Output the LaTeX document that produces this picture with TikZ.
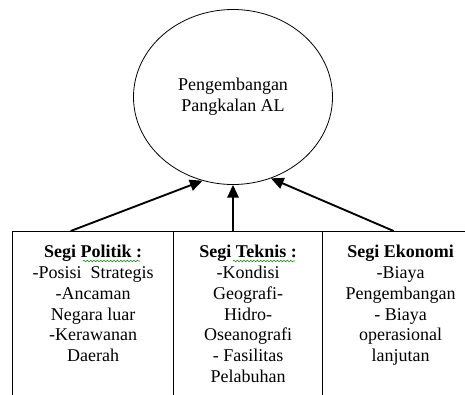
\documentclass[tikz,border=0pt]{standalone}
\usepackage{fontspec}
\setmainfont{Liberation Serif}
\usetikzlibrary{arrows.meta, shapes.geometric, positioning, decorations.pathmorphing}

\tikzset{
  segibox/.style={draw, line width=1pt, minimum height=150pt, anchor=north west, inner sep=0pt},
  segitext/.style={align=center, inner sep=0pt, font=\fontsize{13.5}{15.6}\selectfont},
  panah/.style={-{Triangle[length=9.5pt, width=8.5pt]}, line width=1.4pt},
  spell/.style={draw=green!55!black, decorate, decoration={snake, amplitude=0.6pt, segment length=2.5pt}, line width=0.4pt}
}

\begin{document}
\begin{tikzpicture}[x=0.75pt, y=-0.75pt]
        \clip (0,0) rectangle (465,394);

        % Circle
        \node[ellipse, draw, line width=0.6pt, minimum width=149.25pt, minimum height=131.25pt,
              inner sep=0pt, segitext] (pusat) at (233,97) {Pengembangan\\Pangkalan AL};

        % Boxes
        \node[segibox, minimum width=120.75pt] (politik) at (12,231) {};
        \node[segibox, minimum width=111.75pt] (teknis) at (173,231) {};
        \node[segibox, minimum width=117pt] (ekonomi) at (322,231) {};

        % Texts
        \node[segitext, below=10.5pt of politik.north] (tpolitik)
            {\textbf{Segi Politik :}\\-Posisi\ \ Strategis\\-Ancaman\\Negara luar\\-Kerawanan\\Daerah};
        \node[segitext, below=10.5pt of teknis.north] (tteknis)
            {\textbf{Segi Teknis :}\\-Kondisi\\Geografi-\\Hidro-\\Oseanografi\\- Fasilitas\\Pelabuhan};
        \node[segitext, below=10.5pt of ekonomi.north] (tekonomi)
            {\textbf{Segi Ekonomi}\\-Biaya\\Pengembangan\\- Biaya\\operasional\\lanjutan};

        % Spelling marks
        \draw[spell] (83,261) -- (140,261);
        \draw[spell] (233,261) -- (295,261);

        % Arrows
        \draw[panah] ([xshift=-16.9pt]politik.north) -- (pusat.250);
        \draw[panah] (pusat.south |- teknis.north) -- (pusat.south);
        \draw[panah] ([xshift=-5.25pt]ekonomi.north) -- (pusat.295);
    \end{tikzpicture}
\end{document}
